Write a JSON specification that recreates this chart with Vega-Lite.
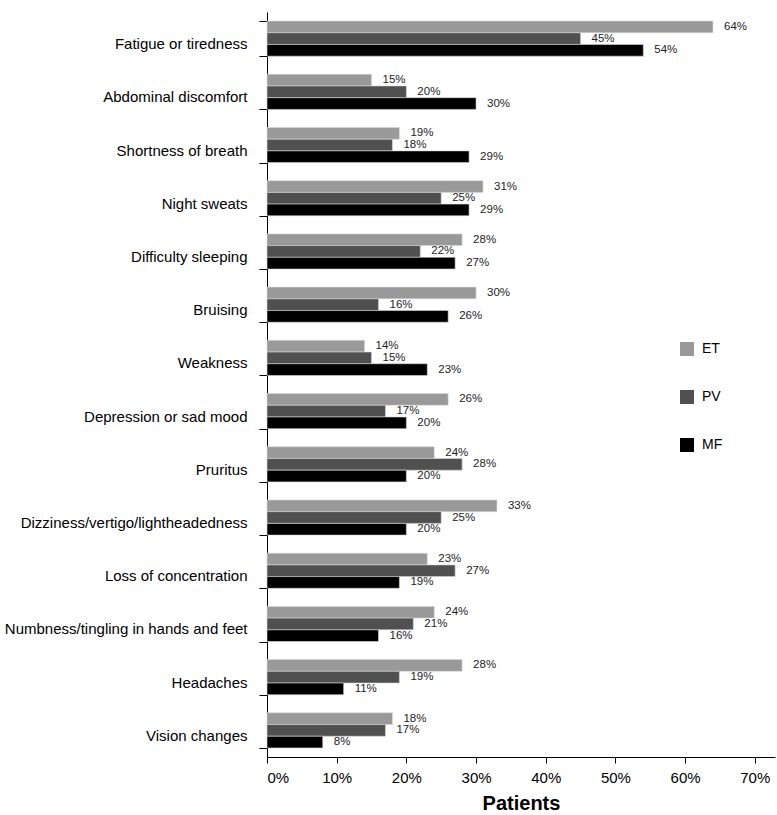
{
  "$schema": "https://vega.github.io/schema/vega-lite/v6.json",
  "autosize": "none",
  "width": 508,
  "height": 745,
  "padding": {"left": 267, "top": 12, "right": 2, "bottom": 58},
  "background": "white",
  "config": {"view": {"stroke": null}, "font": "Liberation Sans"},
  "data": {"values": [
    {"symptom": "Fatigue or tiredness", "group": "ET", "pct": 64},
    {"symptom": "Fatigue or tiredness", "group": "PV", "pct": 45},
    {"symptom": "Fatigue or tiredness", "group": "MF", "pct": 54},
    {"symptom": "Abdominal discomfort", "group": "ET", "pct": 15},
    {"symptom": "Abdominal discomfort", "group": "PV", "pct": 20},
    {"symptom": "Abdominal discomfort", "group": "MF", "pct": 30},
    {"symptom": "Shortness of breath", "group": "ET", "pct": 19},
    {"symptom": "Shortness of breath", "group": "PV", "pct": 18},
    {"symptom": "Shortness of breath", "group": "MF", "pct": 29},
    {"symptom": "Night sweats", "group": "ET", "pct": 31},
    {"symptom": "Night sweats", "group": "PV", "pct": 25},
    {"symptom": "Night sweats", "group": "MF", "pct": 29},
    {"symptom": "Difficulty sleeping", "group": "ET", "pct": 28},
    {"symptom": "Difficulty sleeping", "group": "PV", "pct": 22},
    {"symptom": "Difficulty sleeping", "group": "MF", "pct": 27},
    {"symptom": "Bruising", "group": "ET", "pct": 30},
    {"symptom": "Bruising", "group": "PV", "pct": 16},
    {"symptom": "Bruising", "group": "MF", "pct": 26},
    {"symptom": "Weakness", "group": "ET", "pct": 14},
    {"symptom": "Weakness", "group": "PV", "pct": 15},
    {"symptom": "Weakness", "group": "MF", "pct": 23},
    {"symptom": "Depression or sad mood", "group": "ET", "pct": 26},
    {"symptom": "Depression or sad mood", "group": "PV", "pct": 17},
    {"symptom": "Depression or sad mood", "group": "MF", "pct": 20},
    {"symptom": "Pruritus", "group": "ET", "pct": 24},
    {"symptom": "Pruritus", "group": "PV", "pct": 28},
    {"symptom": "Pruritus", "group": "MF", "pct": 20},
    {"symptom": "Dizziness/vertigo/lightheadedness", "group": "ET", "pct": 33},
    {"symptom": "Dizziness/vertigo/lightheadedness", "group": "PV", "pct": 25},
    {"symptom": "Dizziness/vertigo/lightheadedness", "group": "MF", "pct": 20},
    {"symptom": "Loss of concentration", "group": "ET", "pct": 23},
    {"symptom": "Loss of concentration", "group": "PV", "pct": 27},
    {"symptom": "Loss of concentration", "group": "MF", "pct": 19},
    {"symptom": "Numbness/tingling in hands and feet", "group": "ET", "pct": 24},
    {"symptom": "Numbness/tingling in hands and feet", "group": "PV", "pct": 21},
    {"symptom": "Numbness/tingling in hands and feet", "group": "MF", "pct": 16},
    {"symptom": "Headaches", "group": "ET", "pct": 28},
    {"symptom": "Headaches", "group": "PV", "pct": 19},
    {"symptom": "Headaches", "group": "MF", "pct": 11},
    {"symptom": "Vision changes", "group": "ET", "pct": 18},
    {"symptom": "Vision changes", "group": "PV", "pct": 17},
    {"symptom": "Vision changes", "group": "MF", "pct": 8}
  ]},
  "encoding": {
    "y": {
      "field": "symptom", "type": "nominal", "sort": null,
      "scale": {"paddingInner": 0.34, "paddingOuter": 0.17},
      "axis": {"title": null, "tickBand": "extent", "domainColor": "black", "tickColor": "black", "tickSize": 8, "labelPadding": 12, "labelFontSize": 15, "labelColor": "black", "labelLimit": 300, "labelBaseline": "middle", "labelOffset": 5}
    },
    "yOffset": {"field": "group", "type": "nominal", "sort": ["ET", "PV", "MF"], "scale": {"paddingInner": 0}},
    "x": {
      "field": "pct", "type": "quantitative",
      "scale": {"domain": [0, 72.9], "nice": false},
      "axis": {"title": "Patients", "values": [0, 10, 20, 30, 40, 50, 60, 70], "labelExpr": "datum.value + '%'", "grid": false, "domainColor": "black", "tickColor": "black", "tickSize": 6, "labelPadding": 7, "labelFontSize": 15, "labelColor": "black", "titleFontSize": 20, "titleFontWeight": "bold", "titlePadding": 8, "titleColor": "black"}
    }
  },
  "layer": [
    {
      "mark": {"type": "bar", "stroke": "#d8d8d8", "strokeWidth": 0.6},
      "encoding": {
        "color": {
          "field": "group", "type": "nominal",
          "scale": {"domain": ["ET", "PV", "MF"], "range": ["#999999", "#505050", "#000000"]},
          "legend": {"title": null, "orient": "none", "legendX": 413, "legendY": 330, "symbolType": "square", "symbolSize": 196, "symbolStrokeWidth": 0, "labelFontSize": 14, "labelColor": "black", "rowPadding": 34, "labelOffset": 8}
        }
      }
    },
    {
      "transform": [{"calculate": "datum.pct + '%'", "as": "label"}],
      "mark": {"type": "text", "align": "left", "dx": 11, "fontSize": 11.5, "color": "#222222"},
      "encoding": {"text": {"field": "label", "type": "nominal"}}
    }
  ]
}
